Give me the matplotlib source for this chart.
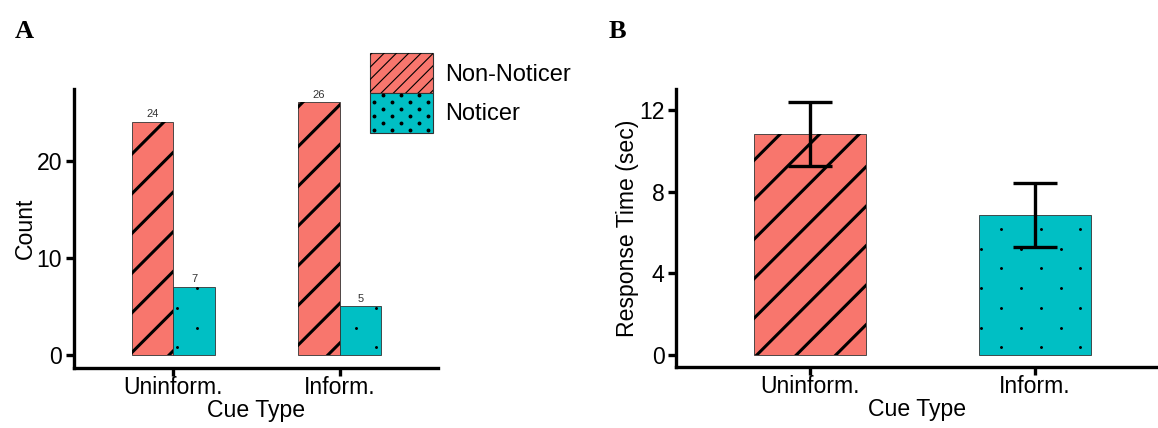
import matplotlib.pyplot as plt
import numpy as np
from matplotlib.patches import Rectangle
from matplotlib.collections import LineCollection
from matplotlib.lines import Line2D
from matplotlib.transforms import IdentityTransform

plt.rcParams['font.family'] = ['Liberation Sans', 'DejaVu Sans']

# data
cue_types = ['Uninform.', 'Inform.']
non_noticer = [24, 26]
noticer = [7, 5]
rt_mean = [10.83, 6.85]
rt_se = [1.58, 1.57]
groups = ['Non-Noticer', 'Noticer']

RED = '#F8766D'
TEAL = '#00BFC4'
EDGE = '#333333'
FS = 16.6

W, H = 1158, 428
fig = plt.figure(figsize=(W / 100, H / 100), dpi=100)


def px_axes(left, top, right, bottom):
    # axes box given in pixel coordinates measured from the top-left corner
    return fig.add_axes([left / W, (H - bottom) / H, (right - left) / W, (bottom - top) / H])


def attach(owner, artist, patch):
    # add first, then clip: adding to an Axes would reset the clip region
    if owner is fig:
        fig.add_artist(artist)
    elif isinstance(artist, Line2D):
        owner.add_line(artist)
    else:
        owner.add_collection(artist, autolim=False)
    artist.set_clip_path(patch)


def stripes(owner, patch, spacing, phase, lw):
    # 45 degree lines in screen space, clipped to the patch
    bb = patch.get_window_extent()
    lo = int(np.ceil((bb.y0 - bb.x1 - phase) / spacing)) - 1
    hi = int(np.floor((bb.y1 - bb.x0 - phase) / spacing)) + 1
    segs = []
    for k in range(lo, hi + 1):
        d = phase + k * spacing
        segs.append([(bb.x0 - 5, bb.x0 - 5 + d), (bb.x1 + 5, bb.x1 + 5 + d)])
    lc = LineCollection(segs, colors='black', linewidths=lw,
                        transform=IdentityTransform(), zorder=3)
    attach(owner, lc, patch)


def dots(owner, patch, x0, y0, dx, dy, ms):
    # staggered dot lattice in screen space, clipped to the patch
    bb = patch.get_window_extent()
    xs, ys = [], []
    k0 = int(np.floor((bb.y0 - y0) / dy)) - 1
    k1 = int(np.ceil((bb.y1 - y0) / dy)) + 1
    for k in range(k0, k1 + 1):
        y = y0 + k * dy
        xstart = x0 + (k % 2) * dx / 2
        m0 = int(np.floor((bb.x0 - xstart) / dx)) - 1
        m1 = int(np.ceil((bb.x1 - xstart) / dx)) + 1
        for m in range(m0, m1 + 1):
            xs.append(xstart + m * dx)
            ys.append(y)
    ln = Line2D(xs, ys, linestyle='none', marker='o', markersize=ms,
                color='black', transform=IdentityTransform(), zorder=3)
    attach(owner, ln, patch)


def style_axes(ax):
    for s in ['top', 'right']:
        ax.spines[s].set_visible(False)
    for s in ['left', 'bottom']:
        ax.spines[s].set_linewidth(2.4)
    ax.tick_params(axis='both', length=5.6, width=2.4, labelsize=FS, colors='black')
    ax.tick_params(axis='x', pad=0.5)
    ax.tick_params(axis='y', pad=2.5)


# ---- panel A: counts ----
axA = px_axes(73.5, 89, 438, 367.5)
style_axes(axA)
x = np.arange(1, len(cue_types) + 1)
bw = 0.25
axA.set_xlim(0.399, 2.59)
axA.set_ylim(-1.29, 27.37)
bars_nn = axA.bar(x - bw / 2, non_noticer, bw, color=RED, edgecolor=EDGE, linewidth=0.6, zorder=2)
bars_n = axA.bar(x + bw / 2, noticer, bw, color=TEAL, edgecolor=EDGE, linewidth=0.6, zorder=2)
for b in bars_nn:
    stripes(axA, b, 39.7, 102.4, 2.2)
for b in bars_n:
    dots(axA, b, 177.3, H - 347.3, 39.7, 19.75, 1.1)
for xi, v in zip(x - bw / 2, non_noticer):
    axA.annotate(str(v), (xi, v), xytext=(0, 2), textcoords='offset points',
                 ha='center', va='bottom', fontsize=8, color=EDGE)
for xi, v in zip(x + bw / 2, noticer):
    axA.annotate(str(v), (xi, v), xytext=(0, 2), textcoords='offset points',
                 ha='center', va='bottom', fontsize=8, color=EDGE)
axA.set_xticks(x, cue_types)
axA.set_yticks([0, 10, 20])
axA.set_xlabel('Cue Type', fontsize=FS, labelpad=0)
axA.set_ylabel('Count', fontsize=FS, labelpad=0)

# legend drawn by hand: two stacked swatches and labels
leg_nn = Rectangle((370, H - 93.3), 62.7, 40, facecolor=RED, edgecolor=EDGE,
                   linewidth=0.8, transform=IdentityTransform())
leg_n = Rectangle((370, H - 132.7), 62.7, 39.4, facecolor=TEAL, edgecolor=EDGE,
                  linewidth=0.8, transform=IdentityTransform())
fig.add_artist(leg_nn)
fig.add_artist(leg_n)
stripes(fig, leg_nn, 12.3, 3.0, 0.8)
dots(fig, leg_n, 374, H - 129.5, 18, 7.0, 1.8)
fig.text(445 / W, (H - 75) / H, groups[0], fontsize=17, va='center', ha='left')
fig.text(445 / W, (H - 114) / H, groups[1], fontsize=17, va='center', ha='left')

# ---- panel B: response time ----
axB = px_axes(675.7, 89, 1158, 367)
style_axes(axB)
axB.set_xlim(0.40, 2.55)
axB.set_ylim(-0.59, 13.04)
bars_rt = axB.bar(x, rt_mean, 0.5, color=[RED, TEAL], edgecolor=EDGE, linewidth=0.6, zorder=2)
stripes(axB, bars_rt[0], 39.5, 27.2, 2.2)
dots(axB, bars_rt[1], 1001, H - 347.3, 39.7, 19.75, 1.1)
axB.errorbar(x, rt_mean, yerr=rt_se, fmt='none', ecolor='black', elinewidth=2.4,
             capsize=16, capthick=2.4, zorder=4)
axB.set_xticks(x, cue_types)
axB.set_yticks([0, 4, 8, 12])
axB.set_xlabel('Cue Type', fontsize=FS, labelpad=0)
axB.set_ylabel('Response Time (sec)', fontsize=FS, labelpad=0)

# panel letters
fig.text(15 / W, (H - 38.3) / H, 'A', fontsize=19, fontweight='bold',
         family=['Liberation Serif', 'DejaVu Serif'], va='baseline')
fig.text(609 / W, (H - 38.3) / H, 'B', fontsize=19, fontweight='bold',
         family=['Liberation Serif', 'DejaVu Serif'], va='baseline')

fig.savefig('out.png', dpi=100)
